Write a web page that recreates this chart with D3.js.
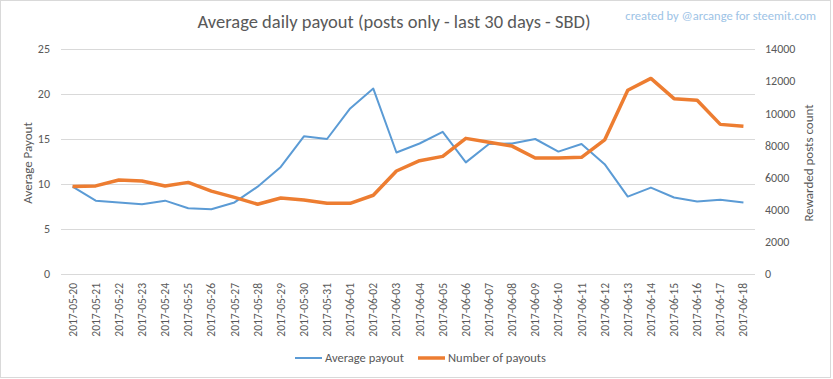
<!DOCTYPE html>
<html><head><meta charset="utf-8">
<script src="https://cdn.jsdelivr.net/npm/d3@7"></script>
<style>
body{margin:0;background:#fff;}
text{font-family:Carlito,"Liberation Sans Narrow","Open Sans",sans-serif;fill:#595959;}
</style></head><body>
<svg id="c" width="833" height="379"></svg>
<script>
const dates = ["2017-05-20","2017-05-21","2017-05-22","2017-05-23","2017-05-24","2017-05-25","2017-05-26","2017-05-27","2017-05-28","2017-05-29","2017-05-30","2017-05-31","2017-06-01","2017-06-02","2017-06-03","2017-06-04","2017-06-05","2017-06-06","2017-06-07","2017-06-08","2017-06-09","2017-06-10","2017-06-11","2017-06-12","2017-06-13","2017-06-14","2017-06-15","2017-06-16","2017-06-17","2017-06-18"];
const avgPayout = [9.7,8.15,7.95,7.75,8.15,7.3,7.2,7.95,9.7,11.9,15.3,15.0,18.4,20.6,13.5,14.5,15.8,12.4,14.45,14.5,15.0,13.6,14.45,12.2,8.6,9.6,8.5,8.05,8.25,7.95];
const numPayouts = [5450,5480,5850,5790,5480,5700,5160,4770,4340,4730,4600,4400,4400,4900,6410,7050,7320,8440,8200,7960,7220,7220,7260,8340,11430,12170,10910,10810,9310,9190];
const leftTicks = [0,5,10,15,20,25];
const rightTicks = [0,2000,4000,6000,8000,10000,12000,14000];

const svg = d3.select("#c");
const m = {l:61, r:755, t:49, b:274};
svg.append("rect").attr("x",0.5).attr("y",0.5).attr("width",830).attr("height",377)
  .attr("fill","#fff").attr("stroke","#d9d9d9");

const x = d3.scaleBand().domain(dates).range([m.l, m.r]);
const yL = d3.scaleLinear().domain([0,25]).range([m.b, m.t]);
const yR = d3.scaleLinear().domain([0,14000]).range([m.b, m.t]);

// gridlines
svg.append("g").selectAll("line").data(leftTicks).join("line")
  .attr("x1",m.l).attr("x2",m.r).attr("y1",d=>yL(d)+0.5).attr("y2",d=>yL(d)+0.5)
  .attr("stroke","#d9d9d9").attr("stroke-width",1);

// left axis
const gL = svg.append("g").attr("transform",`translate(${m.l-11},0)`)
  .call(d3.axisLeft(yL).tickValues(leftTicks).tickSize(0).tickPadding(0));
gL.select(".domain").remove();
gL.selectAll("text").attr("font-size",12).style("fill","#595959");

const gR = svg.append("g").attr("transform",`translate(${m.r+10},0)`)
  .call(d3.axisRight(yR).tickValues(rightTicks).tickFormat(d3.format("d")).tickSize(0).tickPadding(0));
gR.select(".domain").remove();
gR.selectAll("text").attr("font-size",12).style("fill","#595959");

// x axis
const gX = svg.append("g").attr("transform",`translate(0,${m.b})`)
  .call(d3.axisBottom(x).tickSize(0).tickPadding(0));
gX.select(".domain").remove();
gX.selectAll("text").attr("font-size",11.5).style("fill","#595959")
  .attr("text-anchor","end").attr("dy","0.35em")
  .attr("transform","translate(0,9) rotate(-90)");

// lines
const cx = d => x(d) + x.bandwidth()/2;
svg.append("path").datum(dates.map((d,i)=>[cx(d), yL(avgPayout[i])]))
  .attr("d", d3.line()).attr("fill","none").attr("stroke","#5b9bd5").attr("stroke-width",2).attr("stroke-linejoin","round");
svg.append("path").datum(dates.map((d,i)=>[cx(d), yR(numPayouts[i])]))
  .attr("d", d3.line()).attr("fill","none").attr("stroke","#ed7d31").attr("stroke-width",3.5).attr("stroke-linejoin","round");

// titles
svg.append("text").attr("x",394).attr("y",28).attr("text-anchor","middle").attr("font-size",18.5).text("Average daily payout (posts only - last 30 days - SBD)");
svg.append("text").attr("x",816).attr("y",20).attr("text-anchor","end").attr("font-size",12.5).style("fill","#9dc3e6").text("created by @arcange for steemit.com");
svg.append("text").attr("transform","translate(32,163) rotate(-90)").attr("text-anchor","middle").attr("font-size",13).text("Average Payout");
svg.append("text").attr("transform","translate(813,163) rotate(-90)").attr("text-anchor","middle").attr("font-size",13).text("Rewarded posts count");

// legend
const leg = [{n:"Average payout",c:"#5b9bd5",w:2,x:295},{n:"Number of payouts",c:"#ed7d31",w:3.5,x:418}];
const lg = svg.append("g").selectAll("g").data(leg).join("g").attr("transform",d=>`translate(${d.x},358)`);
lg.append("line").attr("x1",0).attr("x2",27).attr("stroke",d=>d.c).attr("stroke-width",d=>d.w);
lg.append("text").attr("x",30).attr("dy","0.35em").attr("font-size",12.5).text(d=>d.n);
</script></body></html>
